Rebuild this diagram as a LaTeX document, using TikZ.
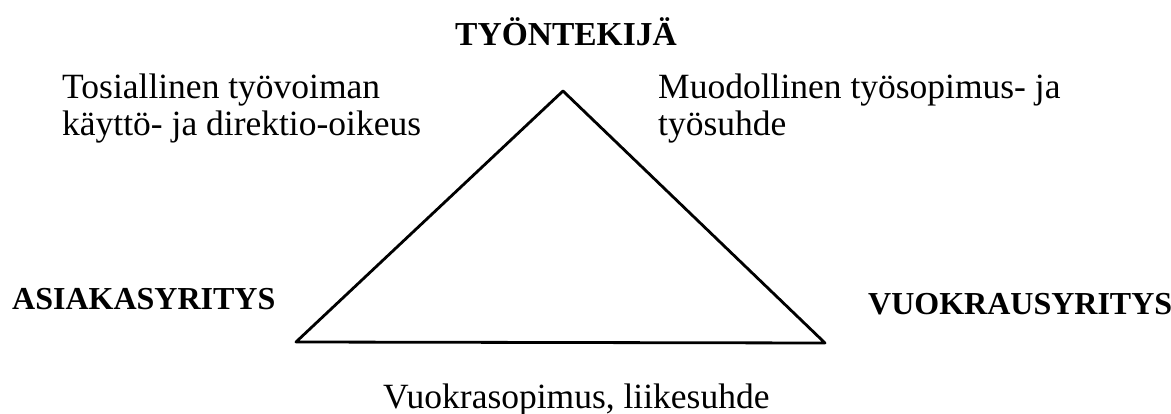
\documentclass[tikz,border=0pt]{standalone}
\usepackage{fontspec}
\setmainfont{Liberation Serif}
\begin{document}
\begin{tikzpicture}[x=1pt,y=-1pt,
  lbl/.style={anchor=base west,inner sep=0pt,font=\fontsize{35.5}{38}\selectfont},
  head/.style={anchor=base west,inner sep=0pt,font=\fontsize{32}{36}\selectfont\bfseries},
  edge/.style={line width=2.8pt,line join=round,line cap=round}]
\useasboundingbox (0,0) rectangle (1171,414);
\coordinate (top) at (563,91);
\coordinate (bl) at (296,342);
\coordinate (br) at (825,343);
\draw[edge] (top) -- (bl) -- (br) -- cycle;
\node[head,anchor=base,font=\fontsize{33.5}{36}\selectfont\bfseries] (tyontekija) at (566,46) {TYÖNTEKIJÄ};
\node[head] (asiakas) at (12,309) {ASIAKASYRITYS};
\node[head] (vuokraus) at (868,315) {VUOKRAUSYRITYS};
\node[lbl] (t1) at (62,99) {Tosiallinen työvoiman};
\node[lbl] (t2) at (62,136) {käyttö- ja direktio-oikeus};
\node[lbl] (m1) at (658,99) {Muodollinen työsopimus- ja};
\node[lbl] (m2) at (658,136) {työsuhde};
\node[lbl] (v1) at (383,408) {Vuokrasopimus, liikesuhde};
\end{tikzpicture}
\end{document}
